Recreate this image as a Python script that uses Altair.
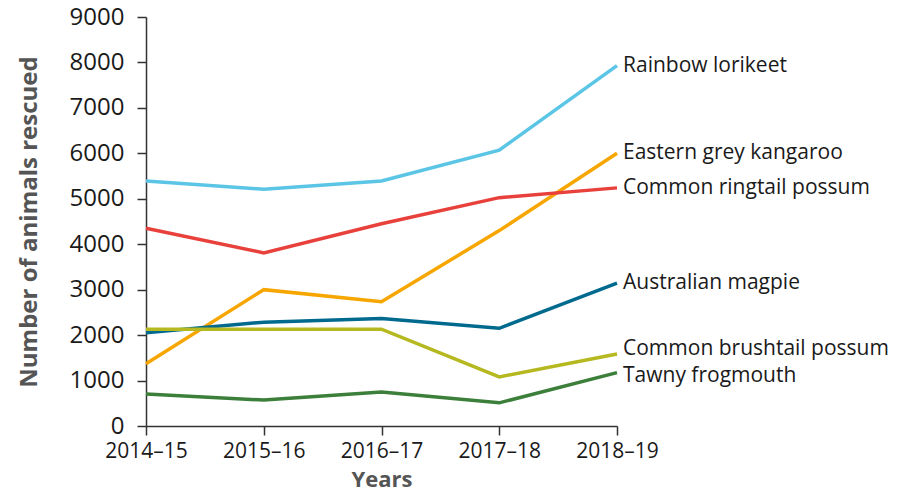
import altair as alt
import pandas as pd

years = ["2014–15", "2015–16", "2016–17", "2017–18", "2018–19"]
species = ["Rainbow lorikeet", "Eastern grey kangaroo", "Common ringtail possum",
           "Australian magpie", "Common brushtail possum", "Tawny frogmouth"]
colors = ["#5bc5e6", "#f7a600", "#e8413c", "#006a8e", "#b5b81f", "#3b7f3a"]

rainbow_lorikeet = [5390, 5210, 5390, 6070, 7930]
eastern_grey_kangaroo = [1370, 3000, 2735, 4300, 6000]
common_ringtail_possum = [4350, 3810, 4450, 5025, 5240]
australian_magpie = [2050, 2285, 2365, 2150, 3145]
common_brushtail_possum = [2130, 2130, 2130, 1080, 1585]
tawny_frogmouth = [705, 570, 750, 510, 1175]

series = [rainbow_lorikeet, eastern_grey_kangaroo, common_ringtail_possum,
          australian_magpie, common_brushtail_possum, tawny_frogmouth]

rows = []
for name, vals in zip(species, series):
    for y, v in zip(years, vals):
        rows.append({"Species": name, "Year": y, "Value": v})
df = pd.DataFrame(rows)

FONT = "Open Sans"

x = alt.X("Year:O", sort=years, scale=alt.Scale(type="point", padding=0),
          axis=alt.Axis(title="Years", labelAngle=0, tickSize=9, labelPadding=5,
                        labelFontSize=21, titlePadding=8))
y = alt.Y("Value:Q", scale=alt.Scale(domain=[0, 9000]),
          axis=alt.Axis(title="Number of animals rescued", values=list(range(0, 9001, 1000)),
                        format="d", grid=False, tickSize=9, labelPadding=13,
                        labelFontSize=24, titlePadding=28, titleFontSize=24))
color = alt.Color("Species:N", scale=alt.Scale(domain=species, range=colors), legend=None)

lines = alt.Chart(df).mark_line(strokeWidth=3.5).encode(x=x, y=y, color=color, detail="Species:N")

last = alt.Chart(df).transform_filter(alt.datum.Year == years[-1])
text_style = dict(align="left", baseline="middle", dx=6, fontSize=21, font=FONT, color="#1a1a1a")

labels_main = last.transform_filter(
    (alt.datum.Species != "Common brushtail possum") & (alt.datum.Species != "Tawny frogmouth")
).mark_text(**text_style).encode(x=x, y=y, text="Species:N")
label_brush = last.transform_filter(alt.datum.Species == "Common brushtail possum").mark_text(
    dy=-5, **text_style).encode(x=x, y=y, text="Species:N")
label_tawny = last.transform_filter(alt.datum.Species == "Tawny frogmouth").mark_text(
    dy=3, **text_style).encode(x=x, y=y, text="Species:N")

chart = alt.layer(lines, labels_main, label_brush, label_tawny).properties(
    width=471, height=409,
    autosize=alt.AutoSizeParams(type="none"),
    padding={"left": 138, "top": 9, "right": 297, "bottom": 66},
).configure_view(stroke=None).configure_axis(
    domainColor="#333333", domainWidth=1.5, tickColor="#333333", tickWidth=1.5,
    labelFont=FONT, labelColor="#1a1a1a",
    titleFont=FONT, titleFontSize=22, titleFontWeight="bold", titleColor="#555555",
)

chart.save("out.html", embed_options={"renderer": "svg", "actions": False})
